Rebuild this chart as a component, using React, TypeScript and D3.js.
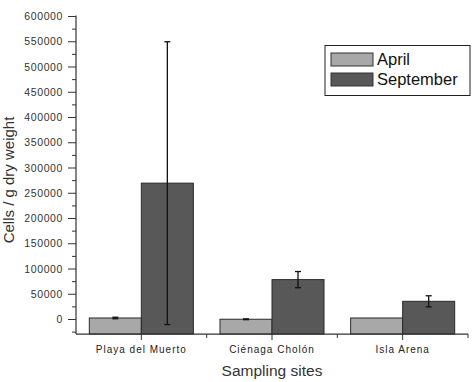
import React from "react";
import * as d3 from "d3";

const categories = ["Playa del Muerto", "Ciénaga Cholón", "Isla Arena"];
const seriesNames = ["April", "September"];
const aprilValues = [3000, 500, 3000];
const aprilErrors = [1500, 800, 0];
const septemberValues = [270000, 79000, 36000];
const septemberErrors = [280000, 16000, 11000];
const yTicks = [0, 50000, 100000, 150000, 200000, 250000, 300000, 350000, 400000, 450000, 500000, 550000, 600000];
const colors = ["#a8a8a8", "#585858"];

const W = 476, H = 382;
const x0 = 76, x1 = 468, yTop = 16.5, yZeroPix = 319.5;

export default function App() {
  const y = d3.scaleLinear().domain([0, 600000]).range([yZeroPix, yTop]);
  const yMin = -28800;
  const yBottom = y(yMin);
  const x = d3.scaleBand().domain(categories).range([x0, x1]).paddingInner(0).paddingOuter(0);
  const sub = d3.scaleBand().domain(seriesNames).range([0, x.bandwidth()]).paddingInner(0).paddingOuter(0.256);
  const series = [
    { name: "April", values: aprilValues, errs: aprilErrors },
    { name: "September", values: septemberValues, errs: septemberErrors },
  ];
  const minorTicks = d3.range(-25000, 600001, 25000).filter((v) => v % 50000 !== 0);
  const font = "'Liberation Sans', Arial, sans-serif";
  return (
    <svg width={W} height={H} style={{ position: "absolute", left: 0, top: 0, background: "#fff" }} fontFamily={font}>
      {series.map((s, si) =>
        categories.map((c, ci) => {
          const bx = (x(c) as number) + (sub(s.name) as number);
          const bw = sub.bandwidth();
          const top = y(s.values[ci]);
          return (
            <rect key={s.name + c} x={bx} y={top} width={bw} height={yBottom - top}
              fill={colors[si]} stroke="#2a2a2a" strokeWidth={1} />
          );
        })
      )}
      {series.map((s, si) =>
        categories.map((c, ci) => {
          if (!s.errs[ci]) return null;
          const cx = (x(c) as number) + (sub(s.name) as number) + sub.bandwidth() / 2;
          const hi = y(s.values[ci] + s.errs[ci]);
          const lo = y(s.values[ci] - s.errs[ci]);
          return (
            <g key={"e" + s.name + c} stroke="#111" strokeWidth={1.3}>
              <line x1={cx} x2={cx} y1={hi} y2={lo} />
              <line x1={cx - 3} x2={cx + 3} y1={hi} y2={hi} />
              <line x1={cx - 3} x2={cx + 3} y1={lo} y2={lo} />
            </g>
          );
        })
      )}
      <line x1={x0} x2={x0} y1={yTop - 1} y2={yBottom} stroke="#333" strokeWidth={1.2} />
      {yTicks.map((t) => (
        <g key={t}>
          <line x1={x0 - 8} x2={x0} y1={y(t)} y2={y(t)} stroke="#333" strokeWidth={1} />
          <text x={63} y={y(t)} dy="0.35em" textAnchor="end" fontSize={10.5} fill="#333" letterSpacing={0.6}>{t}</text>
        </g>
      ))}
      {minorTicks.map((t) => (
        <line key={"m" + t} x1={x0 - 4} x2={x0} y1={y(t)} y2={y(t)} stroke="#333" strokeWidth={1} />
      ))}
      <line x1={x0} x2={x1} y1={yBottom} y2={yBottom} stroke="#333" strokeWidth={1.2} />
      {categories.map((c) => {
        const cx = (x(c) as number) + x.bandwidth() / 2;
        return (
          <g key={"x" + c}>
            <line x1={cx} x2={cx} y1={yBottom} y2={yBottom + 6} stroke="#333" />
            <text x={cx} y={yBottom + 19} textAnchor="middle" fontSize={10} fill="#222" letterSpacing={1}>{c}</text>
          </g>
        );
      })}
      {categories.slice(1).map((c) => (
        <line key={"xm" + c} x1={x(c) as number} x2={x(c) as number} y1={yBottom} y2={yBottom + 4} stroke="#333" />
      ))}
      <line x1={x1} x2={x1} y1={yBottom} y2={yBottom + 4} stroke="#333" />
      <text x={272} y={376} textAnchor="middle" fontSize={15.5} fill="#333">Sampling sites</text>
      <text transform={`translate(14,180) rotate(-90)`} textAnchor="middle" fontSize={15} fill="#333">Cells / g dry weight</text>
      <rect x={325} y={45.5} width={145} height={50} fill="#fff" stroke="#222" strokeWidth={1} />
      {seriesNames.map((n, i) => (
        <g key={"l" + n}>
          <rect x={331} y={53 + i * 20} width={42} height={13} fill={colors[i]} stroke="#333" />
          <text x={377} y={65 + i * 20} fontSize={16.5} fill="#111">{n}</text>
        </g>
      ))}
    </svg>
  );
}
